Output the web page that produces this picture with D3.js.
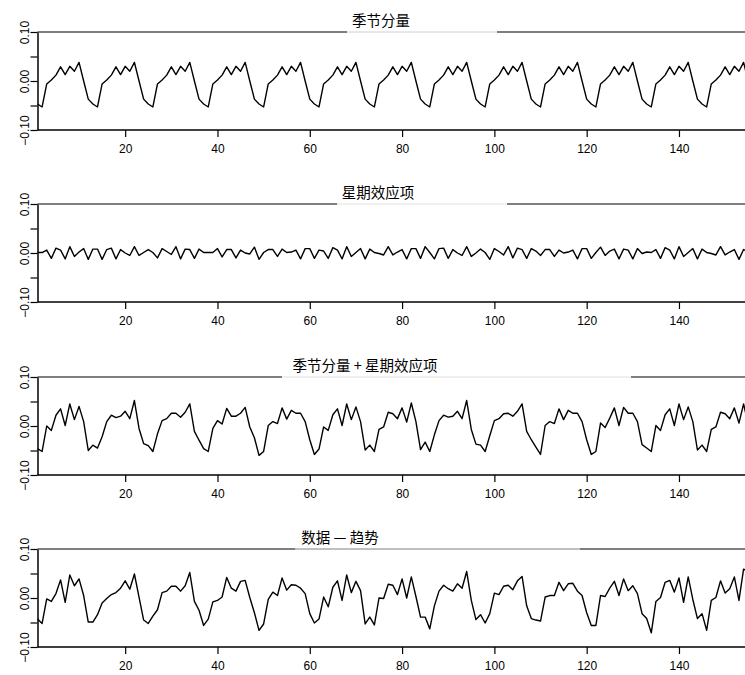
<!DOCTYPE html>
<html><head><meta charset="utf-8">
<script src="https://cdn.jsdelivr.net/npm/d3@7"></script>
<style>html,body{margin:0;padding:0;background:#fff;overflow:hidden}</style>
</head><body>
<script>
// ---- data ----
const panelTitles = ["季节分量", "星期效应项", "季节分量 + 星期效应项", "数据 — 趋势"];
const xTicks = [20, 40, 60, 80, 100, 120, 140];
const yTicks = [-0.10, -0.05, 0.00, 0.05, 0.10];
const yTickLabels = ["−0.10", "", "0.00", "", "0.10"];

const seasonal = [
 -0.047,-0.053,-0.006,0.002,0.012,0.029,0.013,0.030,0.020,0.038,0.000,-0.037,
 -0.047,-0.053,-0.006,0.002,0.012,0.029,0.013,0.030,0.020,0.038,0.000,-0.037,
 -0.047,-0.053,-0.006,0.002,0.012,0.029,0.013,0.030,0.020,0.038,0.000,-0.037,
 -0.047,-0.053,-0.006,0.002,0.012,0.029,0.013,0.030,0.020,0.038,0.000,-0.037,
 -0.047,-0.053,-0.006,0.002,0.012,0.029,0.013,0.030,0.020,0.038,0.000,-0.037,
 -0.047,-0.053,-0.006,0.002,0.012,0.029,0.013,0.030,0.020,0.038,0.000,-0.037,
 -0.047,-0.053,-0.006,0.002,0.012,0.029,0.013,0.030,0.020,0.038,0.000,-0.037,
 -0.047,-0.053,-0.006,0.002,0.012,0.029,0.013,0.030,0.020,0.038,0.000,-0.037,
 -0.047,-0.053,-0.006,0.002,0.012,0.029,0.013,0.030,0.020,0.038,0.000,-0.037,
 -0.047,-0.053,-0.006,0.002,0.012,0.029,0.013,0.030,0.020,0.038,0.000,-0.037,
 -0.047,-0.053,-0.006,0.002,0.012,0.029,0.013,0.030,0.020,0.038,0.000,-0.037,
 -0.047,-0.053,-0.006,0.002,0.012,0.029,0.013,0.030,0.020,0.038,0.000,-0.037,
 -0.047,-0.053,-0.006,0.002,0.012,0.029,0.013,0.030,0.020,0.038,0.000
];

const weekday = [
 0.001,0.001,0.006,-0.011,0.010,0.006,-0.012,0.013,-0.007,0.002,0.009,-0.013,
 0.008,0.008,-0.013,0.007,0.010,-0.012,0.007,0.000,-0.005,0.013,-0.005,0.001,
 0.007,0.001,-0.010,0.009,0.003,-0.003,0.013,-0.012,0.008,0.007,-0.011,0.008,
 0.001,0.001,0.001,0.009,-0.008,0.007,0.007,-0.010,0.006,0.000,-0.002,0.012,
 -0.013,0.001,0.007,0.007,-0.007,0.008,0.001,0.002,0.006,-0.012,0.009,0.009,
 -0.011,0.006,0.004,-0.011,0.011,0.006,-0.012,0.013,-0.007,0.001,0.009,-0.012,
 0.008,0.001,-0.001,-0.004,0.013,-0.004,0.002,0.007,-0.012,0.009,0.009,-0.011,
 0.013,0.001,-0.012,0.009,0.010,-0.011,0.007,0.000,-0.005,0.013,-0.007,0.000,
 0.008,0.001,-0.013,0.009,0.003,-0.004,0.013,-0.010,0.010,0.007,-0.011,0.009,
 0.004,-0.005,0.007,0.007,-0.007,0.006,0.000,0.002,0.006,-0.012,0.009,0.009,
 -0.011,0.001,0.012,-0.005,0.004,0.008,-0.012,0.008,0.006,-0.012,0.009,-0.001,
 0.002,0.001,0.007,-0.011,0.011,0.006,-0.012,0.013,-0.007,0.001,0.009,-0.012,
 0.008,0.001,-0.001,-0.004,0.013,-0.004,0.002,0.007,-0.013,0.007,0.003
];

const seasonalPlusWeekday = [
 -0.046,-0.052,0.000,-0.009,0.022,0.035,0.001,0.045,0.013,0.040,0.009,-0.050,
 -0.039,-0.045,-0.022,0.009,0.022,0.017,0.020,0.030,0.015,0.052,-0.005,-0.036,
 -0.040,-0.052,-0.016,0.011,0.015,0.026,0.026,0.018,0.028,0.045,-0.011,-0.029,
 -0.046,-0.052,-0.005,0.011,0.004,0.036,0.020,0.020,0.026,0.038,-0.002,-0.024,
 -0.060,-0.052,0.001,0.009,0.005,0.037,0.014,0.032,0.026,0.026,0.009,-0.028,
 -0.058,-0.047,-0.002,-0.009,0.023,0.035,0.001,0.045,0.013,0.039,0.009,-0.049,
 -0.039,-0.052,-0.007,-0.002,0.028,0.025,0.015,0.037,0.008,0.047,0.009,-0.048,
 -0.033,-0.052,-0.018,0.011,0.022,0.018,0.020,0.030,0.015,0.052,-0.007,-0.037,
 -0.039,-0.052,-0.020,0.011,0.015,0.025,0.026,0.020,0.030,0.045,-0.011,-0.028,
 -0.043,-0.058,0.001,0.009,0.005,0.035,0.013,0.032,0.026,0.026,0.009,-0.028,
 -0.058,-0.052,0.006,-0.003,0.016,0.037,0.001,0.038,0.026,0.026,0.009,-0.038,
 -0.045,-0.052,0.001,-0.009,0.023,0.035,0.001,0.045,0.013,0.039,0.009,-0.049,
 -0.039,-0.052,-0.007,-0.002,0.028,0.025,0.015,0.037,0.006,0.045,0.003
];

const detrended = [
 -0.043,-0.052,-0.002,-0.007,0.009,0.037,-0.009,0.047,0.025,0.039,0.005,-0.049,
 -0.049,-0.034,-0.010,-0.001,0.007,0.011,0.020,0.035,0.018,0.049,0.002,-0.045,
 -0.052,-0.037,-0.024,0.011,0.014,0.024,0.024,0.014,0.025,0.052,-0.007,-0.025,
 -0.056,-0.043,-0.008,-0.005,0.002,0.042,0.020,0.014,0.034,0.036,0.001,-0.030,
 -0.066,-0.053,-0.003,0.012,0.005,0.041,0.016,0.027,0.026,0.020,0.009,-0.032,
 -0.051,-0.043,0.002,-0.018,0.022,0.035,-0.005,0.047,0.011,0.034,0.015,-0.053,
 -0.039,-0.055,0.000,-0.001,0.028,0.026,0.007,0.039,0.000,0.043,0.003,-0.039,
 -0.039,-0.063,-0.016,0.014,0.026,0.019,0.014,0.029,0.020,0.054,-0.005,-0.044,
 -0.034,-0.051,-0.032,0.010,0.007,0.024,0.026,0.017,0.035,0.044,-0.016,-0.042,
 -0.045,-0.047,0.002,0.005,0.005,0.032,0.015,0.029,0.030,0.014,0.005,-0.030,
 -0.056,-0.056,0.005,0.003,0.020,0.034,0.005,0.039,0.015,0.025,0.009,-0.032,
 -0.042,-0.071,-0.007,0.001,0.032,0.036,0.012,0.041,-0.009,0.043,-0.003,-0.042,
 -0.032,-0.066,-0.005,0.001,0.035,0.010,0.019,0.043,-0.005,0.059,0.055
];

// ---- layout ----
const W = 745, H = 675;
const plotLeft = 37.5, plotRightAtLast = 748.2;  // x of first and last observation
const panelH = 98;
const panels = [
  { values: seasonal,            top: 32,  titleX: 381, gap: [347, 497], gapColor: "#d0d0d0" },
  { values: weekday,             top: 204, titleX: 378, gap: [337, 507], gapColor: "#e0e0e0" },
  { values: seasonalPlusWeekday, top: 377, titleX: 365, gap: [282, 631], gapColor: "#e0e0e0" },
  { values: detrended,           top: 549, titleX: 340, gap: [295, 580], gapColor: "#808080" }
];

const svg = d3.select("body").append("svg")
  .attr("width", W).attr("height", H)
  .style("display", "block");

const n = seasonal.length;
const x = d3.scaleLinear().domain([1, n]).range([plotLeft, plotRightAtLast]);

panels.forEach((p, k) => {
  const y = d3.scaleLinear().domain([-0.1, 0.1]).range([p.top + panelH, p.top]);
  const g = svg.append("g");

  // top border, interrupted where the title sits
  g.append("line").attr("x1", plotLeft).attr("x2", p.gap[0]).attr("y1", p.top).attr("y2", p.top)
    .attr("stroke", "#000").attr("stroke-width", 1.2);
  g.append("line").attr("x1", p.gap[0]).attr("x2", p.gap[1]).attr("y1", p.top).attr("y2", p.top)
    .attr("stroke", p.gapColor).attr("stroke-width", 1);
  g.append("line").attr("x1", p.gap[1]).attr("x2", W + 10).attr("y1", p.top).attr("y2", p.top)
    .attr("stroke", "#000").attr("stroke-width", 1.2);

  // y axis
  const ya = g.append("g").attr("transform", `translate(${plotLeft},0)`)
    .call(d3.axisLeft(y).tickValues(yTicks).tickSize(7).tickSizeOuter(0).tickFormat(() => ""));
  ya.select(".domain").attr("stroke-width", 1.5);
  ya.selectAll(".tick line").attr("stroke-width", 1.2);
  ya.selectAll(".tick").append("text")
    .attr("transform", "translate(-9,0) rotate(-90)")
    .attr("text-anchor", "middle")
    .attr("fill", "#000")
    .style("font", "12px 'Liberation Sans', Arial, sans-serif")
    .text((d, i) => yTickLabels[i]);

  // x axis
  const xa = g.append("g").attr("transform", `translate(0,${p.top + panelH})`)
    .call(d3.axisBottom(x).tickValues(xTicks).tickSize(7).tickSizeOuter(0).tickFormat(d3.format("d")));
  xa.select(".domain").attr("stroke-width", 1.5).attr("d", `M${plotLeft},0H${W + 10}`);
  xa.selectAll(".tick line").attr("stroke-width", 1.2);
  xa.selectAll(".tick text").attr("y", 14).attr("dy", "0.71em")
    .style("font", "12px 'Liberation Sans', Arial, sans-serif").attr("fill", "#000");

  // series
  const line = d3.line().x((d, i) => x(i + 1)).y(d => y(d));
  g.append("path").datum(p.values)
    .attr("d", line).attr("fill", "none")
    .attr("stroke", "#000").attr("stroke-width", 1.4).attr("stroke-linejoin", "round");

  // title
  g.append("text").attr("x", p.titleX).attr("y", p.top - 6)
    .attr("text-anchor", "middle")
    .style("font", "14.5px 'Noto Sans CJK SC', sans-serif")
    .attr("fill", "#000")
    .text(panelTitles[k]);
});
</script>
</body></html>
